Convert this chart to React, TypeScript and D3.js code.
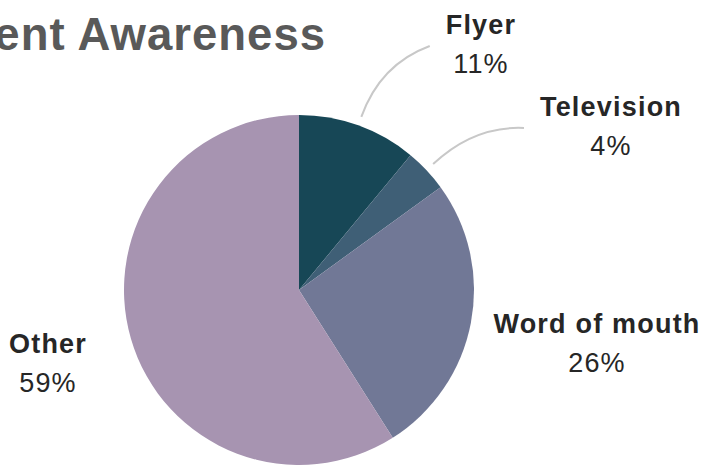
import React, { useRef, useEffect } from 'react';
import * as d3 from 'd3';

// data
const categories = ['Flyer', 'Television', 'Word of mouth', 'Other'];
const shares = [11, 4, 26, 59];
const colors = ['#174756', '#3f5f76', '#717896', '#a794b1'];
const withLeader = [true, true, false, false];

// label placement (centre x, baseline of name)
const labelPos = [
  { x: 481, y: 34 },
  { x: 611, y: 116 },
  { x: 597, y: 333 },
  { x: 48, y: 353 },
];

const title = 'Event Awareness';

const width = 702;
const height = 466;
const cx = 299;
const cy = 290;
const radius = 175;
const font = '"Liberation Sans", Arial, sans-serif';

const App: React.FC = () => {
  const svgRef = useRef<SVGSVGElement | null>(null);

  useEffect(() => {
    if (!svgRef.current) return;
    const svg = d3.select(svgRef.current);
    svg.selectAll('*').remove();

    const data = categories.map((c, i) => ({ name: c, value: shares[i], i }));
    const pie = d3.pie<typeof data[0]>().value(d => d.value).sort(null);
    const arcs = pie(data);
    const arc = d3.arc<d3.PieArcDatum<typeof data[0]>>().innerRadius(0).outerRadius(radius);

    svg.append('text')
      .attr('x', 326)
      .attr('y', 50)
      .attr('text-anchor', 'end')
      .attr('font-family', font)
      .attr('font-weight', 700)
      .attr('font-size', 45.5)
      .attr('letter-spacing', 1)
      .attr('fill', '#595959')
      .text(title);

    const g = svg.append('g').attr('transform', `translate(${cx},${cy})`);
    g.selectAll('path.slice')
      .data(arcs)
      .join('path')
      .attr('class', 'slice')
      .attr('d', arc)
      .attr('fill', d => colors[d.data.i]);

    // labels
    const lab = svg.selectAll('g.label')
      .data(arcs)
      .join('g')
      .attr('class', 'label');

    lab.append('text')
      .attr('class', 'name')
      .attr('x', d => labelPos[d.data.i].x)
      .attr('y', d => labelPos[d.data.i].y)
      .attr('text-anchor', 'middle')
      .attr('font-family', font)
      .attr('font-weight', 700)
      .attr('font-size', 27)
      .attr('letter-spacing', 1.2)
      .attr('fill', '#262626')
      .text(d => d.data.name);

    lab.append('text')
      .attr('x', d => labelPos[d.data.i].x)
      .attr('y', d => labelPos[d.data.i].y + 39)
      .attr('text-anchor', 'middle')
      .attr('font-family', font)
      .attr('font-weight', 400)
      .attr('font-size', 27)
      .attr('letter-spacing', 1.2)
      .attr('fill', '#262626')
      .text(d => `${d.data.value}%`);

    // leader lines
    lab.each(function (d) {
      if (!withLeader[d.data.i]) return;
      const nameNode = d3.select(this).select<SVGTextElement>('text.name').node()!;
      const tw = nameNode.getComputedTextLength();
      const mid = (d.startAngle + d.endAngle) / 2;
      const r0 = radius + 9;
      const x0 = cx + r0 * Math.sin(mid);
      const y0 = cy - r0 * Math.cos(mid);
      const rc = radius + 65;
      const xc = cx + rc * Math.sin(mid);
      const yc = cy - rc * Math.cos(mid);
      const p = labelPos[d.data.i];
      const x1 = p.x - tw / 2 - 16;
      const y1 = p.y + 12;
      const path = d3.path();
      path.moveTo(x0, y0);
      path.quadraticCurveTo(xc, yc, x1, y1);
      svg.append('path')
        .attr('d', path.toString())
        .attr('fill', 'none')
        .attr('stroke', '#c8c8c8')
        .attr('stroke-width', 2);
    });
  }, []);

  return (
    <svg
      ref={svgRef}
      width={width}
      height={height}
      style={{ position: 'absolute', left: 0, top: 0, background: '#fff' }}
    />
  );
};

export default App;
